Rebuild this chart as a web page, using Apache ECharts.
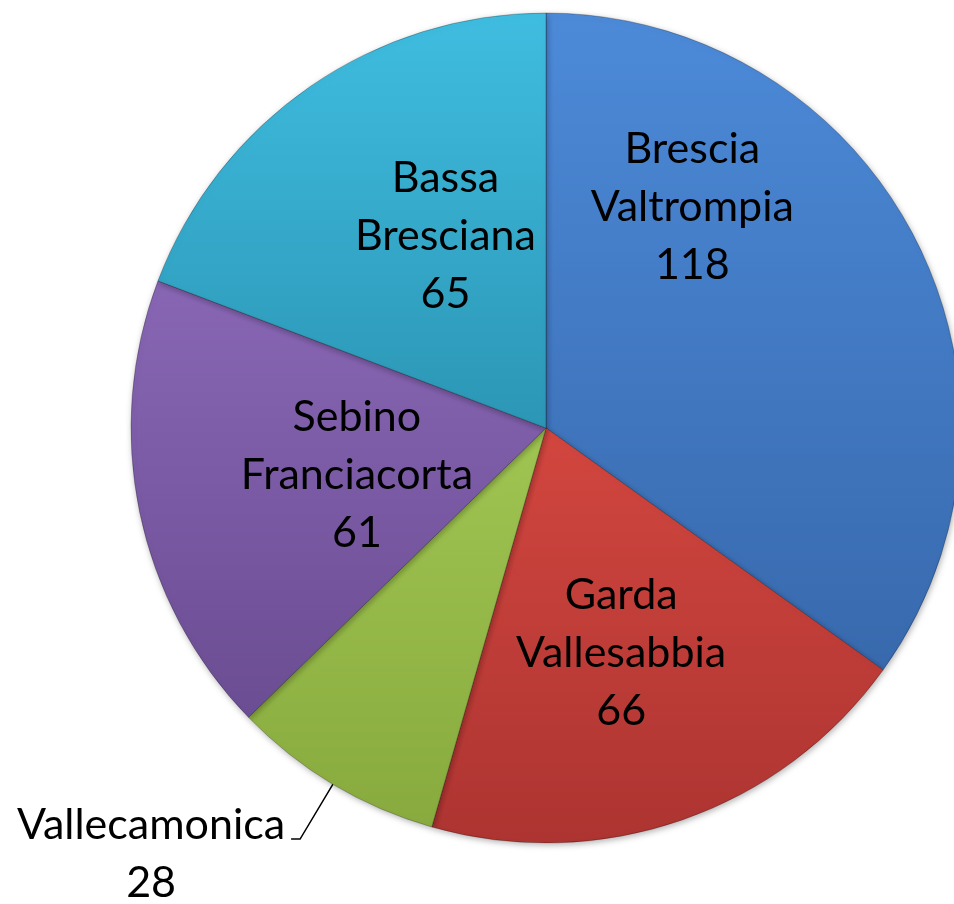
<!DOCTYPE html>
<html>
<head>
<meta charset="utf-8">
<script src="https://cdn.jsdelivr.net/npm/echarts@6/dist/echarts.min.js"></script>
<style>
  html, body { margin: 0; padding: 0; background: #fff; }
  #chart { width: 954px; height: 904px; }
</style>
</head>
<body>
<div id="chart"></div>
<script>
// aree e numero di casi
const areas = ['Brescia\nValtrompia', 'Garda\nVallesabbia', 'Vallecamonica', 'Sebino\nFranciacorta', 'Bassa\nBresciana'];
const counts = [118, 66, 28, 61, 65];

// colori tipo Office: chiaro in alto, scuro in basso
const topColors = ['#4c8ad8', '#d2463f', '#a0c552', '#8866b4', '#3fbde0'];
const bottomColors = ['#3869ad', '#ad3431', '#88aa3e', '#6b4d93', '#2c96b5'];

// spostamento etichette interne rispetto alla posizione standard
const labelShift = [[-41, -125], [6, 26], [0, 0], [17, 4], [19, -19]];

const chart = echarts.init(document.getElementById('chart'));

const pieData = areas.map((name, i) => {
    const item = {
        name: name,
        value: counts[i],
        itemStyle: {
            color: new echarts.graphic.LinearGradient(0, 0, 0, 1, [
                { offset: 0, color: topColors[i] },
                { offset: 1, color: bottomColors[i] }
            ])
        }
    };
    if (name === 'Vallecamonica') {
        item.label = {
            position: 'outside',
            formatter: '{n|{b}}\n{n|{c}}',
            padding: [31, 0, 0, 0],
            distanceToLabelLine: 2,
            rich: { n: { width: 276, align: 'center', fontSize: 43, lineHeight: 58, fontFamily: 'Lato', color: '#000' } }
        };
        item.labelLine = { show: true, length: 64, length2: 9, lineStyle: { color: '#000', width: 1.5 } };
    }
    return item;
});

chart.setOption({
    animation: false,
    series: [{
        type: 'pie',
        center: [546, 428],
        radius: 415,
        startAngle: 90,
        clockwise: true,
        avoidLabelOverlap: false,
        data: pieData,
        itemStyle: {
            borderColor: 'rgba(0,0,0,0.25)',
            borderWidth: 1,
            shadowBlur: 6,
            shadowColor: 'rgba(0,0,0,0.3)',
            shadowOffsetX: 1,
            shadowOffsetY: 2
        },
        label: {
            show: true,
            position: 'inside',
            rotate: 0,
            formatter: '{b}\n{c}',
            fontFamily: 'Lato',
            fontSize: 43,
            lineHeight: 58,
            color: '#000',
            align: 'center'
        },
        labelLine: { show: false },
        labelLayout: (params) => {
            const s = labelShift[params.dataIndex];
            return { dx: s[0], dy: s[1] };
        },
        emphasis: { disabled: true }
    }]
});
</script>
</body>
</html>
